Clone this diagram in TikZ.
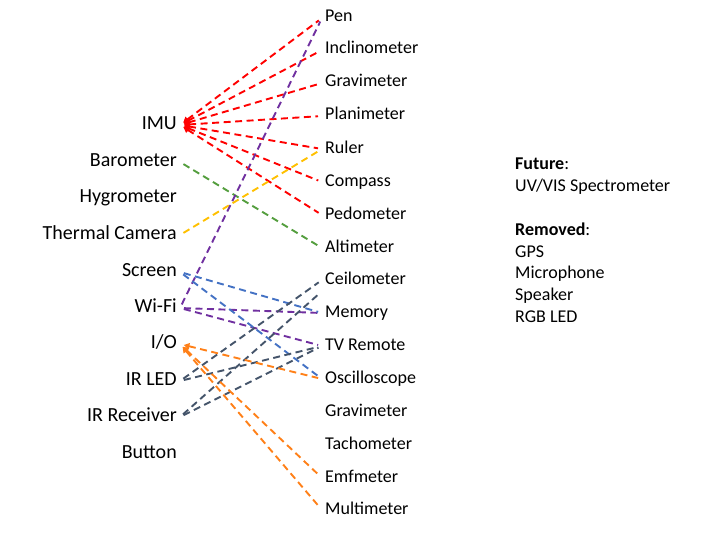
\documentclass[tikz,border=0pt]{standalone}
\usepackage{fontspec}
\setmainfont{Carlito}
\usetikzlibrary{arrows.meta}

\definecolor{imured}{RGB}{255,0,0}
\definecolor{wifipurple}{RGB}{112,48,160}
\definecolor{baromgreen}{RGB}{84,158,62}
\definecolor{thermyellow}{RGB}{255,192,0}
\definecolor{scrblue}{RGB}{68,114,196}
\definecolor{irslate}{RGB}{68,84,106}
\definecolor{ioorange}{RGB}{255,128,24}

\tikzset{
  snleft/.style={anchor=east, inner sep=3pt, font=\fontsize{20}{24}\selectfont, text height=13pt, text depth=4pt},
  snright/.style={anchor=west, inner sep=3pt, font=\fontsize{18}{22}\selectfont, text height=12pt, text depth=4pt},
  snlink/.style={line width=1.9pt, dash pattern=on 7pt off 4.5pt, shorten <=4pt, shorten >=4pt},
  sntip/.style={{Triangle[length=5.5pt,width=6.5pt]}-}
}

\begin{document}
\begin{tikzpicture}[x=1pt, y=-1pt]
\useasboundingbox (0,0) rectangle (718,535);

\node[snleft] (imu) at (180,125) {IMU};
\node[snleft] (baro) at (180,162) {Barometer};
\node[snleft] (hygro) at (180,198) {Hygrometer};
\node[snleft] (thermal) at (180,235) {Thermal Camera};
\node[snleft] (screen) at (180,272) {Screen};
\node[snleft] (wifi) at (180,308) {Wi-Fi};
\node[snleft] (io) at (180,344) {I/O};
\node[snleft] (irled) at (180,381) {IR LED};
\node[snleft] (irrec) at (180,417) {IR Receiver};
\node[snleft] (button) at (180,454) {Button};

\node[snright] (pen) at (322,18) {Pen};
\node[snright] (incl) at (322,50) {Inclinometer};
\node[snright] (gravA) at (322,83) {Gravimeter};
\node[snright] (plan) at (322,116) {Planimeter};
\node[snright] (ruler) at (322,149) {Ruler};
\node[snright] (compass) at (322,182) {Compass};
\node[snright] (pedo) at (322,215) {Pedometer};
\node[snright] (alti) at (322,248) {Altimeter};
\node[snright] (ceil) at (322,280) {Ceilometer};
\node[snright] (memory) at (322,313) {Memory};
\node[snright] (tv) at (322,346) {TV Remote};
\node[snright] (osc) at (322,379) {Oscilloscope};
\node[snright] (gravB) at (322,412) {Gravimeter};
\node[snright] (tacho) at (322,445) {Tachometer};
\node[snright] (emf) at (322,478) {Emfmeter};
\node[snright] (multi) at (322,510) {Multimeter};

\node[anchor=north west, align=left, inner sep=0pt, font=\fontsize{18}{21.8}\selectfont] (notes) at (515,158)
  {\textbf{Future}:\\UV/VIS Spectrometer\\[21.8pt]\textbf{Removed}:\\GPS\\Microphone\\Speaker\\RGB LED};

\draw[snlink, sntip, imured] (imu.east) -- (pen.west);
\draw[snlink, sntip, imured] (imu.east) -- (incl.west);
\draw[snlink, sntip, imured] (imu.east) -- (gravA.west);
\draw[snlink, sntip, imured] (imu.east) -- (plan.west);
\draw[snlink, sntip, imured] (imu.east) -- (ruler.west);
\draw[snlink, sntip, imured] (imu.east) -- (compass.west);
\draw[snlink, sntip, imured] (imu.east) -- (pedo.west);

\draw[snlink, baromgreen] (baro.east) -- (alti.west);
\draw[snlink, thermyellow] (thermal.east) -- (ruler.west);

\draw[snlink, wifipurple] (wifi.east) -- (pen.west);
\draw[snlink, wifipurple] (wifi.east) -- (memory.west);
\draw[snlink, wifipurple] (wifi.east) -- (tv.west);

\draw[snlink, scrblue] (screen.east) -- (memory.west);
\draw[snlink, scrblue] (screen.east) -- (osc.west);

\draw[snlink, irslate] (irled.east) -- (ceil.west);
\draw[snlink, irslate] (irled.east) -- (tv.west);
\draw[snlink, irslate] (irrec.east) -- (ceil.south west);
\draw[snlink, irslate] (irrec.east) -- (tv.west);

\draw[snlink, sntip, ioorange] (io.east) -- (osc.west);
\draw[snlink, sntip, ioorange] (io.east) -- (emf.west);
\draw[snlink, sntip, ioorange] (io.east) -- (multi.west);
\end{tikzpicture}
\end{document}
